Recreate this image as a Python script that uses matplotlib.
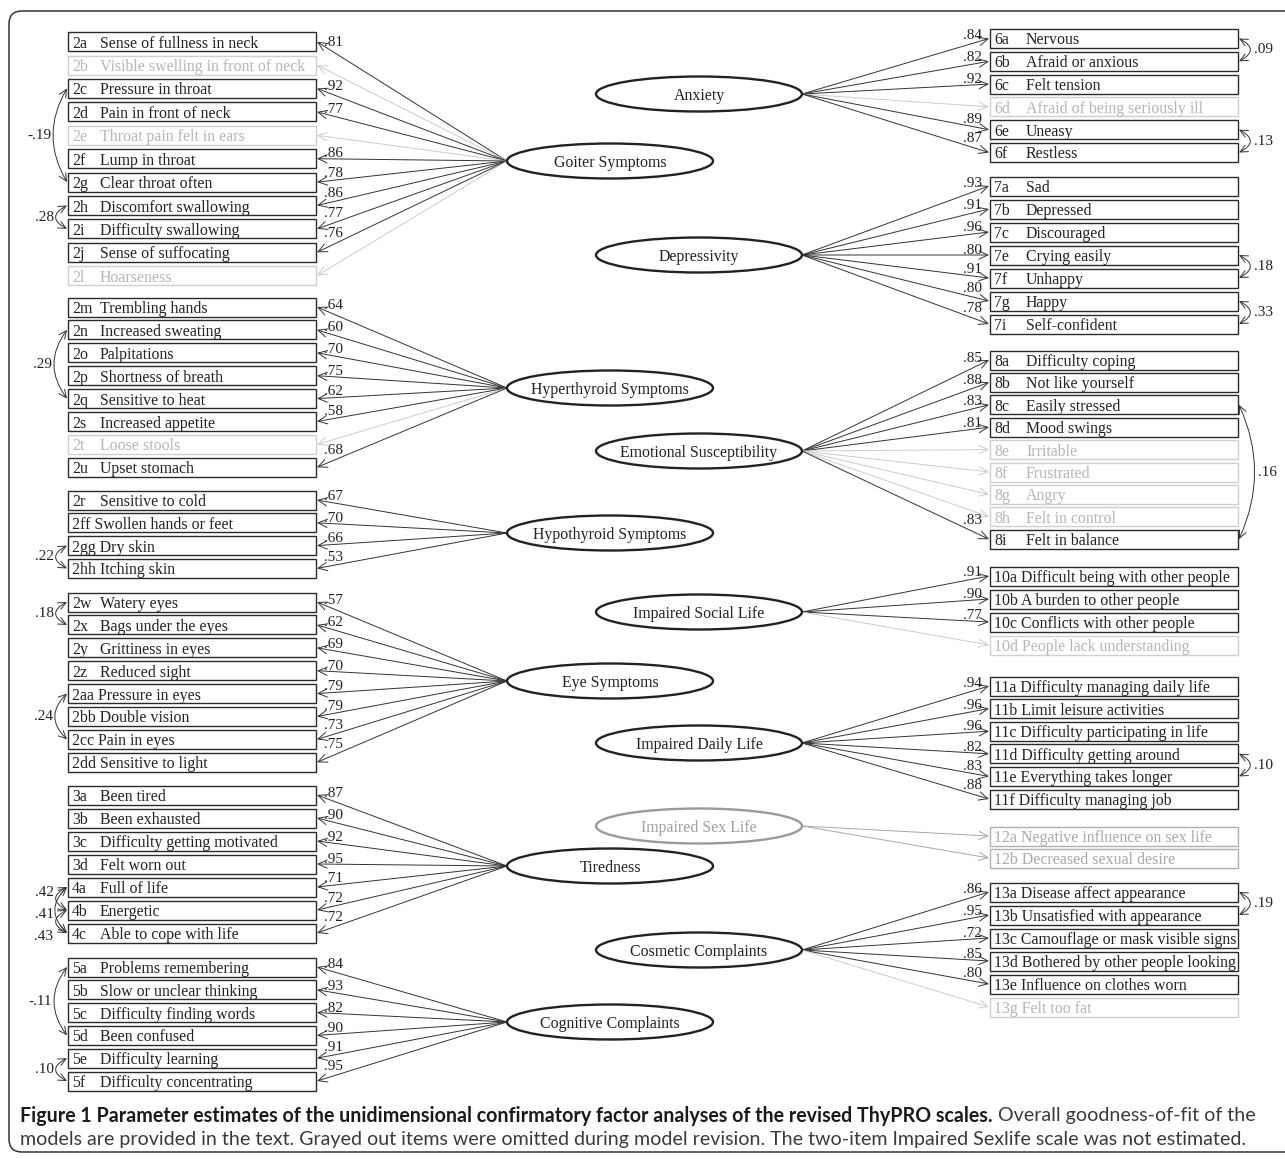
"""ThyPRO CFA path diagram"""

import matplotlib
matplotlib.use("Agg")
import matplotlib.pyplot as plt
from matplotlib.patches import Ellipse, Rectangle, FancyArrowPatch, FancyBboxPatch

SERIF = "Liberation Serif"
CAPFONT = ["Lato", "DejaVu Sans"]

# --- left hand scales
goiter_codes = ["2a", "2b", "2c", "2d", "2e", "2f", "2g", "2h", "2i", "2j", "2l"]
goiter_labels = ["Sense of fullness in neck", "Visible swelling in front of neck",
                 "Pressure in throat", "Pain in front of neck", "Throat pain felt in ears",
                 "Lump in throat", "Clear throat often", "Discomfort swallowing",
                 "Difficulty swallowing", "Sense of suffocating", "Hoarseness"]
goiter_loads = [.81, None, .92, .77, None, .86, .78, .86, .77, .76, None]
goiter_corrs = [("2c", "2g", -.19), ("2h", "2i", .28)]

hyper_codes = ["2m", "2n", "2o", "2p", "2q", "2s", "2t", "2u"]
hyper_labels = ["Trembling hands", "Increased sweating", "Palpitations", "Shortness of breath",
                "Sensitive to heat", "Increased appetite", "Loose stools", "Upset stomach"]
hyper_loads = [.64, .60, .70, .75, .62, .58, None, .68]
hyper_corrs = [("2n", "2q", .29)]

hypo_codes = ["2r", "2ff", "2gg", "2hh"]
hypo_labels = ["Sensitive to cold", "Swollen hands or feet", "Dry skin", "Itching skin"]
hypo_loads = [.67, .70, .66, .53]
hypo_corrs = [("2gg", "2hh", .22)]

eye_codes = ["2w", "2x", "2y", "2z", "2aa", "2bb", "2cc", "2dd"]
eye_labels = ["Watery eyes", "Bags under the eyes", "Grittiness in eyes", "Reduced sight",
              "Pressure in eyes", "Double vision", "Pain in eyes", "Sensitive to light"]
eye_loads = [.57, .62, .69, .70, .79, .79, .73, .75]
eye_corrs = [("2w", "2x", .18), ("2aa", "2cc", .24)]

tired_codes = ["3a", "3b", "3c", "3d", "4a", "4b", "4c"]
tired_labels = ["Been tired", "Been exhausted", "Difficulty getting motivated", "Felt worn out",
                "Full of life", "Energetic", "Able to cope with life"]
tired_loads = [.87, .90, .92, .95, .71, .72, .72]
tired_corrs = [("4a", "4b", .42), ("4b", "4c", .41), ("4a", "4c", .43)]

cog_codes = ["5a", "5b", "5c", "5d", "5e", "5f"]
cog_labels = ["Problems remembering", "Slow or unclear thinking", "Difficulty finding words",
              "Been confused", "Difficulty learning", "Difficulty concentrating"]
cog_loads = [.84, .93, .82, .90, .91, .95]
cog_corrs = [("5a", "5d", -.11), ("5e", "5f", .10)]

# --- right hand scales
anx_codes = ["6a", "6b", "6c", "6d", "6e", "6f"]
anx_labels = ["Nervous", "Afraid or anxious", "Felt tension", "Afraid of being seriously ill",
              "Uneasy", "Restless"]
anx_loads = [.84, .82, .92, None, .89, .87]
anx_corrs = [("6a", "6b", .09), ("6e", "6f", .13)]

dep_codes = ["7a", "7b", "7c", "7e", "7f", "7g", "7i"]
dep_labels = ["Sad", "Depressed", "Discouraged", "Crying easily", "Unhappy", "Happy",
              "Self-confident"]
dep_loads = [.93, .91, .96, .80, .91, .80, .78]
dep_corrs = [("7e", "7f", .18), ("7g", "7i", .33)]

emo_codes = ["8a", "8b", "8c", "8d", "8e", "8f", "8g", "8h", "8i"]
emo_labels = ["Difficulty coping", "Not like yourself", "Easily stressed", "Mood swings",
              "Irritable", "Frustrated", "Angry", "Felt in control", "Felt in balance"]
emo_loads = [.85, .88, .83, .81, None, None, None, None, .83]
emo_corrs = [("8c", "8i", .16)]

soc_codes = ["10a", "10b", "10c", "10d"]
soc_labels = ["Difficult being with other people", "A burden to other people",
              "Conflicts with other people", "People lack understanding"]
soc_loads = [.91, .90, .77, None]
soc_corrs = []

daily_codes = ["11a", "11b", "11c", "11d", "11e", "11f"]
daily_labels = ["Difficulty managing daily life", "Limit leisure activities",
                "Difficulty participating in life", "Difficulty getting around",
                "Everything takes longer", "Difficulty managing job"]
daily_loads = [.94, .96, .96, .82, .83, .88]
daily_corrs = [("11d", "11e", .10)]

sex_codes = ["12a", "12b"]
sex_labels = ["Negative influence on sex life", "Decreased sexual desire"]
sex_loads = [None, None]
sex_corrs = []

cosm_codes = ["13a", "13b", "13c", "13d", "13e", "13g"]
cosm_labels = ["Disease affect appearance", "Unsatisfied with appearance",
               "Camouflage or mask visible signs", "Bothered by other people looking",
               "Influence on clothes worn", "Felt too fat"]
cosm_loads = [.86, .95, .72, .85, .80, None]
cosm_corrs = [("13a", "13b", .19)]

# layout: side, factor name, ellipse y, first item y, item step, estimated
scales = [
    ("L", "Goiter Symptoms", goiter_codes, goiter_labels, goiter_loads, goiter_corrs, 161, 41.7, 23.4, True),
    ("L", "Hyperthyroid Symptoms", hyper_codes, hyper_labels, hyper_loads, hyper_corrs, 388, 307, 22.9, True),
    ("L", "Hypothyroid Symptoms", hypo_codes, hypo_labels, hypo_loads, hypo_corrs, 533, 500, 22.8, True),
    ("L", "Eye Symptoms", eye_codes, eye_labels, eye_loads, eye_corrs, 681, 602, 22.9, True),
    ("L", "Tiredness", tired_codes, tired_labels, tired_loads, tired_corrs, 866, 795, 23.0, True),
    ("L", "Cognitive Complaints", cog_codes, cog_labels, cog_loads, cog_corrs, 1022, 967, 22.8, True),
    ("R", "Anxiety", anx_codes, anx_labels, anx_loads, anx_corrs, 94, 38.5, 22.8, True),
    ("R", "Depressivity", dep_codes, dep_labels, dep_loads, dep_corrs, 255, 186, 23.0, True),
    ("R", "Emotional Susceptibility", emo_codes, emo_labels, emo_loads, emo_corrs, 451, 360, 22.4, True),
    ("R", "Impaired Social Life", soc_codes, soc_labels, soc_loads, soc_corrs, 612, 576, 23.0, True),
    ("R", "Impaired Daily Life", daily_codes, daily_labels, daily_loads, daily_corrs, 743, 686, 22.6, True),
    ("R", "Impaired Sex Life", sex_codes, sex_labels, sex_loads, sex_corrs, 826, 836, 22.0, False),
    ("R", "Cosmetic Complaints", cosm_codes, cosm_labels, cosm_loads, cosm_corrs, 950, 892, 23.0, True),
]
corr_label_y = {("4a", "4b"): 893, ("4b", "4c"): 914, ("4a", "4c"): 936}

DARK = "#222222"
GREY_TXT = "#b5b5b5"
GREY_LN = "#cfcfcf"
FS = 11.4
LFS = 11.0
EW, EH = 206, 35
BOXH = 19

fig = plt.figure(figsize=(12.85, 11.59), dpi=100)
ax = fig.add_axes([0, 0, 1, 1])
ax.set_xlim(0, 1285)
ax.set_ylim(1159, 0)
ax.axis("off")

# outer frame
ax.add_patch(FancyBboxPatch((9, 11), 1300, 1141, boxstyle="round,pad=0,rounding_size=13",
                            fc="none", ec="#333333", lw=1.1, clip_on=False))


def fmt(v):
    return f"{v:.2f}".replace("0.", ".")


def arrow(p0, p1, color, style, lw=0.7, rad=None):
    kw = dict(arrowstyle=style, mutation_scale=10, color=color, lw=lw,
              shrinkA=0, shrinkB=0)
    if rad is not None:
        kw["connectionstyle"] = f"arc3,rad={rad}"
    ax.add_patch(FancyArrowPatch(p0, p1, **kw))


HEAD = "->,head_length=0.65,head_width=0.3"
HEAD2 = "<->,head_length=0.55,head_width=0.26"

for side, name, codes, labels, loads, corrs, ey, y0, step, est in scales:
    ys = [y0 + i * step for i in range(len(codes))]
    pos = dict(zip(codes, ys))
    if side == "L":
        ex, bx0, bx1, loff = 610, 68, 316, 32
        tail, tip = ex - EW / 2, bx1 + 1
    else:
        ex, bx0, bx1, loff = 699, 990, 1238, 36
        tail, tip = ex + EW / 2, bx0 - 1

    ecol = "#222222" if est else "#9a9a9a"
    ax.add_patch(Ellipse((ex, ey), EW, EH, fc="white", ec=ecol, lw=1.7, zorder=3))
    ax.text(ex, ey, name, ha="center", va="center_baseline", family=SERIF, fontsize=FS,
            color=DARK if est else "#a0a0a0", zorder=4)

    for code, lab, ld, iy in zip(codes, labels, loads, ys):
        on = ld is not None
        lc = "#2a2a2a" if on else (GREY_LN if est else "#b0b0b0")
        tc = DARK if on else (GREY_TXT if est else "#a8a8a8")
        ax.add_patch(Rectangle((bx0, iy - BOXH / 2), bx1 - bx0, BOXH, fc="white",
                               ec=lc, lw=1.0, zorder=2))
        if len(code) >= 3:
            ax.text(bx0 + 4, iy, code + " " + lab, va="center_baseline", family=SERIF,
                    fontsize=FS, color=tc)
        else:
            ax.text(bx0 + 4, iy, code, va="center_baseline", family=SERIF, fontsize=FS, color=tc)
            ax.text(bx0 + loff, iy, lab, va="center_baseline", family=SERIF, fontsize=FS, color=tc)

        acol = "#333333" if on else ("#cccccc" if est else "#a8a8a8")
        arrow((tail, ey), (tip, iy), acol, HEAD)
        if on:
            def line_y(x):
                return iy + (ey - iy) * (x - tip) / (tail - tip)
            if side == "L":
                yb = min(line_y(326), line_y(346)) - 1.5
                ax.text(324, yb, fmt(ld), ha="left", va="baseline", family=SERIF,
                        fontsize=LFS, color=DARK)
            else:
                yb = min(line_y(960), line_y(981)) - 1.5
                ax.text(982, yb, fmt(ld), ha="right", va="baseline", family=SERIF,
                        fontsize=LFS, color=DARK)

    for a, b, val in corrs:
        ya, yb = pos[a], pos[b]
        span = yb - ya
        bulge = 10 + 0.04 * span
        rad = 2 * bulge / span
        ly = corr_label_y.get((a, b), (ya + yb) / 2)
        if side == "L":
            x = bx0 - 1
            arrow((x, ya), (x, yb), "#333333", HEAD2, rad=rad)
            ax.text(x - bulge - 2, ly, fmt(val), ha="right", va="center", family=SERIF,
                    fontsize=LFS, color=DARK)
        else:
            x = bx1 + 1
            arrow((x, ya), (x, yb), "#333333", HEAD2, rad=-rad)
            ax.text(x + bulge + 4, ly, fmt(val), ha="left", va="center", family=SERIF,
                    fontsize=LFS, color=DARK)

# caption
cap_bold = ("Figure 1 Parameter estimates of the unidimensional confirmatory factor "
            "analyses of the revised ThyPRO scales.")
cap_rest = " Overall goodness-of-fit of the"
cap_line2 = ("models are provided in the text. Grayed out items were omitted during model "
             "revision. The two-item Impaired Sexlife scale was not estimated.")

r = fig.canvas.get_renderer()
cfs = 12.0
t1 = ax.text(20, 1116, cap_bold, fontsize=cfs, fontweight="bold", family=CAPFONT,
             va="center", color="#1a1a1a")
t2 = ax.text(20, 1116, cap_rest, fontsize=cfs, family=CAPFONT, va="center", color="#3a3a3a")
for _ in range(3):
    w = t1.get_window_extent(r).width + t2.get_window_extent(r).width
    cfs = cfs * 1240 / w
    t1.set_fontsize(cfs)
    t2.set_fontsize(cfs)
t2.set_x(20 + t1.get_window_extent(r).width)
ax.text(20, 1139, cap_line2, fontsize=cfs, family=CAPFONT, va="center", color="#3a3a3a")

plt.savefig("out.png", dpi=100)
